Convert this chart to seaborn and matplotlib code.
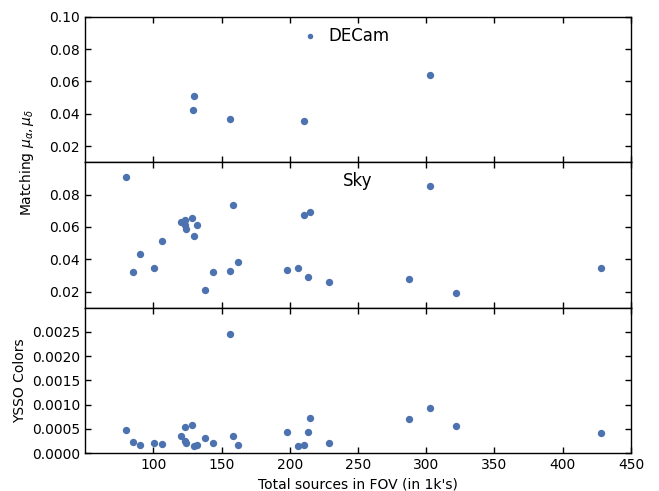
import numpy as np
import matplotlib
matplotlib.use("Agg")
import matplotlib.pyplot as plt
import seaborn as sns

# Données : nombre total de sources dans le champ (en milliers)
fov_sources = [79.8, 84.9, 90.2, 100.5, 106.3, 120.3, 122.9, 123.4, 124.2, 128.7,
               129.5, 132.1, 137.7, 143.5, 156.0, 158.7, 161.9, 198.0, 206.0, 210.4,
               213.1, 214.7, 228.6, 287.1, 302.5, 321.8, 428.0]

sky_match = [0.0911, 0.0323, 0.0431, 0.0346, 0.0511, 0.0631, 0.0645, 0.0611, 0.0588, 0.0656,
             0.0546, 0.0611, 0.0212, 0.0320, 0.0328, 0.0736, 0.0383, 0.0332, 0.0344, 0.0674,
             0.0292, 0.0689, 0.0261, 0.0276, 0.0850, 0.0189, 0.0348]

ysso_colors = [0.000488, 0.000233, 0.000178, 0.000207, 0.000198, 0.000357, 0.000260, 0.000550,
               0.000213, 0.000591, 0.000151, 0.000171, 0.000310, 0.000219, 0.00245, 0.000351,
               0.000165, 0.000434, 0.000145, 0.000178, 0.000446, 0.000723, 0.000219, 0.000702,
               0.000936, 0.000570, 0.000413]

decam_sources = [128.9, 129.6, 156.2, 210.4, 302.5]
decam_match = [0.0424, 0.0507, 0.0367, 0.0354, 0.0641]

sns.set_style("ticks", {"xtick.direction": "in", "ytick.direction": "in",
                        "axes.edgecolor": "black", "text.color": "black",
                        "axes.labelcolor": "black", "xtick.color": "black",
                        "ytick.color": "black"})
plt.rcParams["font.size"] = 10

color = "#4c72b0"
fig, axes = plt.subplots(3, 1, sharex=True, figsize=(6.59, 4.91), dpi=100)
fig.subplots_adjust(left=0.129, right=0.9575, top=0.966, bottom=0.077, hspace=0)
ax1, ax2, ax3 = axes

sns.scatterplot(x=decam_sources, y=decam_match, ax=ax1, color=color, s=28,
                linewidth=0, label="DECam")
sns.scatterplot(x=fov_sources, y=sky_match, ax=ax2, color=color, s=28, linewidth=0)
sns.scatterplot(x=fov_sources, y=ysso_colors, ax=ax3, color=color, s=28, linewidth=0)

ax1.legend(loc="upper center", bbox_to_anchor=(0.478, 1.0), frameon=False,
           scatterpoints=1, fontsize=12, markerscale=0.75,
           borderaxespad=0.2, handlelength=1.0, handletextpad=0.6)
ax2.text(0.5, 0.93, "Sky", transform=ax2.transAxes, ha="center", va="top", fontsize=12)

for ax in axes:
    ax.set_xlim(50, 450)
    ax.tick_params(which="both", direction="in", top=True, right=True,
                   length=4, width=1, labelsize=10, color="black", labelcolor="black")
    for sp in ax.spines.values():
        sp.set_linewidth(1)

ax1.set_ylim(0.01, 0.10)
ax1.set_yticks([0.02, 0.04, 0.06, 0.08, 0.10])
ax2.set_ylim(0.01, 0.10)
ax2.set_yticks([0.02, 0.04, 0.06, 0.08])
ax3.set_ylim(0, 0.003)
ax3.set_yticks([0, 0.0005, 0.001, 0.0015, 0.002, 0.0025])
ax3.set_yticklabels([f"{v:.4f}" for v in ax3.get_yticks()])
ax1.set_yticklabels([f"{v:.2f}" for v in ax1.get_yticks()])
ax2.set_yticklabels([f"{v:.2f}" for v in ax2.get_yticks()])
ax3.set_xticks([100, 150, 200, 250, 300, 350, 400, 450])

ax2.set_ylabel(r"Matching $\mu_\alpha,\mu_\delta$", fontsize=10)
ax2.yaxis.set_label_coords(-0.09, 1.0)
ax3.set_ylabel("YSSO Colors", fontsize=10)
ax3.yaxis.set_label_coords(-0.107, 0.5)
ax3.set_xlabel("Total sources in FOV (in 1k's)", fontsize=10)

fig.savefig("out.png", dpi=100)
